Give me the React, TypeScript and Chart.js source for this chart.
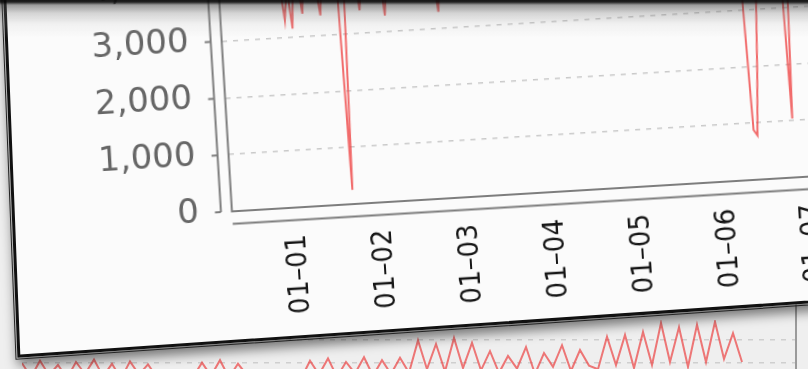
import React, { useEffect, useRef } from "react";
import { Chart, registerables } from "chart.js";

Chart.register(...registerables);

// ---- main chart data (hourly values, first value is 18 h before 01–01 00:00) ----
const startHour = -18;
const dayLabels = ["01–01", "01–02", "01–03", "01–04", "01–05", "01–06", "01–07", "01–08"];
const yTickValues = [0, 1000, 2000, 3000, 4000, 5000];

const leadIn = [4200, 4450, 4100, 3900, 4250, 4500, 4350, 4050, 3850, 4150, 4400, 4300, 4000, 3900, 4200, 4450, 4100, 3950];
const day1 = [3300, 3900, 3150, 4200, 4000, 3400, 4300, 4500, 4100, 3900, 3350, 4200, 4400, 4600, 4300, 3950, 250, 4100, 4350, 4500, 4200, 3400, 4000, 4300];
const day2 = [4450, 4200, 3900, 4100, 3280, 4000, 4300, 4550, 4400, 4150, 3950, 4250, 4500, 4350, 4000, 3850, 4200, 4400, 3950, 3290, 4100, 4300, 4450, 4200];
const day3 = [4000, 3850, 4150, 4400, 4600, 4350, 4050, 3900, 4200, 4450, 4300, 4000, 3800, 4100, 4350, 4550, 4250, 3950, 3850, 4150, 4400, 4500, 4200, 3950];
const day4 = [3850, 4100, 4300, 4550, 4400, 4050, 3900, 4200, 4450, 4250, 3950, 3800, 4050, 4300, 4500, 4350, 4000, 3850, 4150, 4400, 4600, 4300, 4000, 3900];
const day5 = [4150, 4400, 4250, 3950, 3800, 4100, 4350, 4550, 4300, 4000, 3850, 4200, 4450, 4300, 4050, 3900, 4150, 4400, 4500, 4250, 3950, 3850, 4100, 4350];
const day6 = [4500, 4200, 3950, 4150, 4400, 4300, 4000, 3850, 3250, 880, 780, 1900, 3350, 4100, 4400, 4550, 4250, 3900, 4100, 4000, 1040, 3950, 4300, 4450];
const day7 = [4200, 3900, 4100, 4350, 4500, 4250, 4000, 4300, 4450, 4150, 3900, 4200];

const hourlyValues = [...leadIn, ...day1, ...day2, ...day3, ...day4, ...day5, ...day6, ...day7];

// ---- underlying (second sheet) chart data, seen below the page ----
const underlayValues = [
  28, 5, 32, 8, 25, 3, 30, 10, 34, 6, 27, 2, 31, 9, 26, 4, 14, 2, 12, 5,
  29, 7, 33, 4, 27, 8, 15, 3, 13, 6, 16, 2, 32, 9, 36, 5, 30, 11, 38, 7,
  33, 10, 37, 12, 66, 18, 60, 14, 70, 20, 62, 16, 48, 12, 40, 19, 55, 10, 45, 22,
  58, 15, 50, 24, 18, 72, 25, 75, 20, 80, 25, 95, 30, 88, 22, 92, 30, 97, 35, 78, 30,
];
const underlayGridValues = [28, 67];

const RED = "rgba(238, 66, 66, 0.78)";

const framePlugin = {
  id: "offsetFrame",
  beforeDatasetsDraw(chart: any) {
    const { ctx, chartArea: a, scales } = chart;
    const y = scales.y;
    ctx.save();
    ctx.strokeStyle = "#7d7d7d";
    ctx.lineWidth = 2;
    ctx.strokeRect(a.left, a.top, a.right - a.left, a.bottom - a.top);
    const ax = a.left - 11;
    ctx.beginPath();
    ctx.moveTo(ax, y.getPixelForValue(yTickValues[0]));
    ctx.lineTo(ax, y.getPixelForValue(yTickValues[yTickValues.length - 1]));
    yTickValues.forEach((v) => {
      const py = y.getPixelForValue(v);
      ctx.moveTo(ax - 6, py);
      ctx.lineTo(ax, py);
    });
    const ay = a.bottom + 12.5;
    ctx.moveTo(a.left, ay);
    ctx.lineTo(a.right, ay);
    ctx.stroke();
    ctx.restore();
  },
};

const underlayPlugin = {
  id: "underlayBorder",
  afterDraw(chart: any) {
    const { ctx, chartArea: a } = chart;
    ctx.save();
    ctx.strokeStyle = "#9a9a9a";
    ctx.lineWidth = 2;
    ctx.beginPath();
    ctx.moveTo(a.right, 0);
    ctx.lineTo(a.right, chart.height);
    ctx.stroke();
    ctx.restore();
  },
};

function MainChart() {
  const ref = useRef<HTMLCanvasElement | null>(null);
  useEffect(() => {
    if (!ref.current) return;
    const data = hourlyValues.map((v, i) => ({ x: i + startHour, y: v }));
    const chart = new Chart(ref.current, {
      type: "line",
      data: {
        datasets: [
          {
            data,
            borderColor: RED,
            borderWidth: 2,
            pointRadius: 0,
            tension: 0,
            fill: false,
          },
        ],
      },
      options: {
        animation: false,
        responsive: false,
        maintainAspectRatio: false,
        events: [],
        layout: { padding: { top: 27, right: 10, left: 0, bottom: 0 } },
        plugins: { legend: { display: false }, tooltip: { enabled: false } },
        scales: {
          x: {
            type: "linear",
            min: startHour,
            max: 186,
            afterBuildTicks: (s: any) => {
              s.ticks = dayLabels.map((_, i) => ({ value: i * 24 }));
            },
            afterFit: (s: any) => {
              s.height = 129;
            },
            grid: { display: false, drawTicks: false },
            border: { display: false },
            ticks: {
              autoSkip: false,
              minRotation: 90,
              maxRotation: 90,
              padding: 27,
              color: "#161616",
              font: { family: '"DejaVu Sans Condensed", "Liberation Sans Narrow", sans-serif', size: 29 },
              callback: (_v: any, i: number) => dayLabels[i],
            },
          },
          y: {
            type: "linear",
            min: yTickValues[0],
            max: yTickValues[yTickValues.length - 1],
            afterBuildTicks: (s: any) => {
              s.ticks = yTickValues.map((v) => ({ value: v }));
            },
            afterFit: (s: any) => {
              s.width = 230.6;
              s.paddingTop = 0;
              s.paddingBottom = 0;
            },
            grid: { color: "#c9c9c9", lineWidth: 1.5, drawTicks: false },
            border: { display: false, dash: [5, 6] },
            ticks: {
              padding: 33,
              color: "#666666",
              font: { family: '"DejaVu Sans", sans-serif', size: 34 },
              callback: (v: any) => Number(v).toLocaleString("en-US"),
            },
          },
        },
      },
      plugins: [framePlugin],
    });
    return () => chart.destroy();
  }, []);
  return (
    <canvas
      ref={ref}
      width={970}
      height={440}
      style={{ position: "absolute", left: 0, top: -110, width: 970, height: 440 }}
    />
  );
}

function UnderlayChart() {
  const ref = useRef<HTMLCanvasElement | null>(null);
  useEffect(() => {
    if (!ref.current) return;
    const data = underlayValues.map((v, i) => ({ x: i, y: v }));
    const chart = new Chart(ref.current, {
      type: "line",
      data: {
        datasets: [
          { data, borderColor: "rgba(235, 70, 70, 0.72)", borderWidth: 2, pointRadius: 0, tension: 0 },
        ],
      },
      options: {
        animation: false,
        responsive: false,
        maintainAspectRatio: false,
        events: [],
        layout: { padding: { top: 20, right: 12, left: 22, bottom: 20 } },
        plugins: { legend: { display: false }, tooltip: { enabled: false } },
        scales: {
          x: { type: "linear", min: 0, max: 86, display: false },
          y: {
            type: "linear",
            min: 0,
            max: 100,
            afterBuildTicks: (s: any) => {
              s.ticks = underlayGridValues.map((v) => ({ value: v }));
            },
            afterFit: (s: any) => {
              s.width = 0;
              s.paddingTop = 0;
              s.paddingBottom = 0;
            },
            grid: { color: "#cfcfcf", lineWidth: 1.5, drawTicks: false },
            border: { display: false, dash: [5, 6] },
            ticks: { display: false },
          },
        },
      },
      plugins: [underlayPlugin],
    });
    return () => chart.destroy();
  }, []);
  return (
    <canvas
      ref={ref}
      width={808}
      height={100}
      style={{ position: "absolute", left: 0, top: 300, width: 808, height: 100 }}
    />
  );
}

export default function App() {
  return (
    <div
      style={{
        position: "fixed",
        left: 0,
        top: 0,
        width: 808,
        height: 369,
        overflow: "hidden",
        background: "#efefef",
        filter: "blur(0.45px)",
      }}
    >
      <UnderlayChart />
      <div
        style={{
          position: "absolute",
          left: 0.6,
          top: -61.7,
          width: 1000,
          height: 420,
          boxSizing: "border-box",
          transformOrigin: "0 0",
          transform: "matrix(0.99768, -0.0682, 0.0391, 0.9992, 0, 0)",
          background: "#fbfbfb",
          border: "3px solid #111",
          outline: "1.5px solid #222",
          outlineOffset: "1px",
          boxShadow: "0 8px 12px rgba(0,0,0,0.5)",
        }}
      />
      <div
        style={{
          position: "absolute",
          left: 0,
          top: 0,
          width: 808,
          height: 369,
          transformOrigin: "404px 184px",
          transform: "rotate(-3.45deg)",
        }}
      >
        <MainChart />
      </div>
      <div
        style={{
          position: "absolute",
          left: 0,
          top: 0,
          width: 808,
          height: 40,
          background:
            "linear-gradient(to bottom, rgba(10,10,10,0.95) 0px, rgba(10,10,10,0.9) 2px, rgba(60,60,60,0.5) 5px, rgba(110,110,110,0.28) 13px, rgba(170,170,170,0.12) 24px, rgba(255,255,255,0) 38px)",
        }}
      />
    </div>
  );
}
